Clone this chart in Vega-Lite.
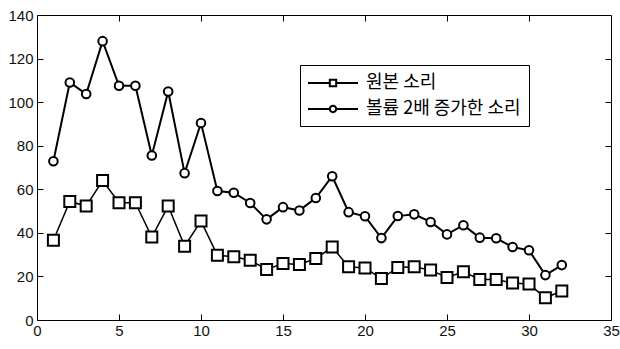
{
  "$schema": "https://vega.github.io/schema/vega-lite/v6.json",
  "autosize": {"type": "none"},
  "width": 574,
  "height": 305,
  "padding": {"left": 37, "top": 15, "right": 9, "bottom": 29},
  "background": "white",
  "config": {
    "view": {"stroke": "black", "strokeWidth": 1},
    "axis": {
      "grid": false,
      "domain": false,
      "ticks": true,
      "tickColor": "black",
      "tickWidth": 1,
      "tickSize": 6,
      "offset": -6,
      "labelFont": "Liberation Sans",
      "labelFontSize": 15,
      "labelColor": "#111",
      "title": null
    }
  },
  "data": {
    "values": [
      {"x": 1, "y": 36.6, "series": "원본 소리"},
      {"x": 2, "y": 54.4, "series": "원본 소리"},
      {"x": 3, "y": 52.3, "series": "원본 소리"},
      {"x": 4, "y": 64, "series": "원본 소리"},
      {"x": 5, "y": 53.8, "series": "원본 소리"},
      {"x": 6, "y": 53.8, "series": "원본 소리"},
      {"x": 7, "y": 38.1, "series": "원본 소리"},
      {"x": 8, "y": 52.3, "series": "원본 소리"},
      {"x": 9, "y": 33.9, "series": "원본 소리"},
      {"x": 10, "y": 45.4, "series": "원본 소리"},
      {"x": 11, "y": 29.7, "series": "원본 소리"},
      {"x": 12, "y": 29, "series": "원본 소리"},
      {"x": 13, "y": 27.4, "series": "원본 소리"},
      {"x": 14, "y": 23.2, "series": "원본 소리"},
      {"x": 15, "y": 25.9, "series": "원본 소리"},
      {"x": 16, "y": 25.5, "series": "원본 소리"},
      {"x": 17, "y": 28.2, "series": "원본 소리"},
      {"x": 18, "y": 33.5, "series": "원본 소리"},
      {"x": 19, "y": 24.4, "series": "원본 소리"},
      {"x": 20, "y": 23.9, "series": "원본 소리"},
      {"x": 21, "y": 19, "series": "원본 소리"},
      {"x": 22, "y": 24.1, "series": "원본 소리"},
      {"x": 23, "y": 24.4, "series": "원본 소리"},
      {"x": 24, "y": 22.9, "series": "원본 소리"},
      {"x": 25, "y": 19.5, "series": "원본 소리"},
      {"x": 26, "y": 22.1, "series": "원본 소리"},
      {"x": 27, "y": 18.6, "series": "원본 소리"},
      {"x": 28, "y": 18.6, "series": "원본 소리"},
      {"x": 29, "y": 17, "series": "원본 소리"},
      {"x": 30, "y": 16.5, "series": "원본 소리"},
      {"x": 31, "y": 10.2, "series": "원본 소리"},
      {"x": 32, "y": 13.3, "series": "원본 소리"},
      {"x": 1, "y": 72.9, "series": "볼륨 2배 증가한 소리"},
      {"x": 2, "y": 109, "series": "볼륨 2배 증가한 소리"},
      {"x": 3, "y": 103.7, "series": "볼륨 2배 증가한 소리"},
      {"x": 4, "y": 128, "series": "볼륨 2배 증가한 소리"},
      {"x": 5, "y": 107.5, "series": "볼륨 2배 증가한 소리"},
      {"x": 6, "y": 107.5, "series": "볼륨 2배 증가한 소리"},
      {"x": 7, "y": 75.5, "series": "볼륨 2배 증가한 소리"},
      {"x": 8, "y": 104.9, "series": "볼륨 2배 증가한 소리"},
      {"x": 9, "y": 67.4, "series": "볼륨 2배 증가한 소리"},
      {"x": 10, "y": 90.4, "series": "볼륨 2배 증가한 소리"},
      {"x": 11, "y": 59.2, "series": "볼륨 2배 증가한 소리"},
      {"x": 12, "y": 58.4, "series": "볼륨 2배 증가한 소리"},
      {"x": 13, "y": 53.7, "series": "볼륨 2배 증가한 소리"},
      {"x": 14, "y": 46.2, "series": "볼륨 2배 증가한 소리"},
      {"x": 15, "y": 51.8, "series": "볼륨 2배 증가한 소리"},
      {"x": 16, "y": 50.3, "series": "볼륨 2배 증가한 소리"},
      {"x": 17, "y": 56, "series": "볼륨 2배 증가한 소리"},
      {"x": 18, "y": 66, "series": "볼륨 2배 증가한 소리"},
      {"x": 19, "y": 49.5, "series": "볼륨 2배 증가한 소리"},
      {"x": 20, "y": 47.6, "series": "볼륨 2배 증가한 소리"},
      {"x": 21, "y": 37.6, "series": "볼륨 2배 증가한 소리"},
      {"x": 22, "y": 47.7, "series": "볼륨 2배 증가한 소리"},
      {"x": 23, "y": 48.5, "series": "볼륨 2배 증가한 소리"},
      {"x": 24, "y": 45, "series": "볼륨 2배 증가한 소리"},
      {"x": 25, "y": 39.3, "series": "볼륨 2배 증가한 소리"},
      {"x": 26, "y": 43.5, "series": "볼륨 2배 증가한 소리"},
      {"x": 27, "y": 37.8, "series": "볼륨 2배 증가한 소리"},
      {"x": 28, "y": 37.5, "series": "볼륨 2배 증가한 소리"},
      {"x": 29, "y": 33.5, "series": "볼륨 2배 증가한 소리"},
      {"x": 30, "y": 32, "series": "볼륨 2배 증가한 소리"},
      {"x": 31, "y": 20.6, "series": "볼륨 2배 증가한 소리"},
      {"x": 32, "y": 25.2, "series": "볼륨 2배 증가한 소리"}
    ]
  },
  "layer": [
    {
      "transform": [{"filter": "datum.series === '원본 소리'"}],
      "mark": {"type": "line", "color": "black", "strokeWidth": 1.5},
      "encoding": {
        "x": {"field": "x", "type": "quantitative", "scale": {"domain": [0, 35], "nice": false},
              "axis": {"values": [0, 5, 10, 15, 20, 25, 30, 35], "labelPadding": 3, "labelFlush": false}},
        "y": {"field": "y", "type": "quantitative", "scale": {"domain": [0, 140], "nice": false},
              "axis": {"values": [0, 20, 40, 60, 80, 100, 120, 140], "labelPadding": 4}}
      }
    },
    {
      "transform": [{"filter": "datum.series !== '원본 소리'"}],
      "mark": {"type": "line", "color": "black", "strokeWidth": 2},
      "encoding": {
        "x": {"field": "x", "type": "quantitative", "axis": null},
        "y": {"field": "y", "type": "quantitative", "axis": null}
      }
    },
    {
      "mark": {"type": "point", "filled": false, "fill": "white", "fillOpacity": 1, "stroke": "black", "strokeWidth": 2, "opacity": 1, "size": 121},
      "encoding": {
        "x": {"field": "x", "type": "quantitative", "scale": {"domain": [0, 35], "nice": false},
              "axis": {"orient": "top", "labels": false, "values": [5, 10, 15, 20, 25, 30]}},
        "y": {"field": "y", "type": "quantitative", "scale": {"domain": [0, 140], "nice": false},
              "axis": {"orient": "right", "labels": false, "values": [20, 40, 60, 80, 100, 120]}},
        "shape": {"field": "series", "type": "nominal",
                  "scale": {"domain": ["원본 소리", "볼륨 2배 증가한 소리"],
                            "range": ["square", "M-0.78,0A0.78,0.78 0 1,1 0.78,0A0.78,0.78 0 1,1 -0.78,0Z"]},
                  "legend": null}
      }
    },
    {
      "transform": [{"filter": "datum.x > 1000"}],
      "mark": {"type": "point", "filled": true, "fill": "black", "color": "black", "fillOpacity": 1, "stroke": "black", "strokeWidth": 0, "opacity": 1},
      "encoding": {
        "x": {"field": "x", "type": "quantitative", "axis": null},
        "y": {"field": "y", "type": "quantitative", "axis": null},
        "shape": {"field": "series", "type": "nominal",
                  "scale": {"domain": ["원본 소리", "볼륨 2배 증가한 소리"],
                            "range": [
                              "M-1,-0.1L1.08,-0.1L1.08,0.1L-1,0.1ZM1.92,-0.1L4,-0.1L4,0.1L1.92,0.1ZM1.08,-0.42L1.92,-0.42L1.92,0.42L1.08,0.42ZM1.28,-0.22L1.28,0.22L1.72,0.22L1.72,-0.22Z",
                              "M-1,-0.1L1.09,-0.1L1.09,0.1L-1,0.1ZM1.91,-0.1L4,-0.1L4,0.1L1.91,0.1ZM1.08,0A0.42,0.42 0 1,1 1.92,0A0.42,0.42 0 1,1 1.08,0ZM1.28,0A0.22,0.22 0 1,0 1.72,0A0.22,0.22 0 1,0 1.28,0Z"
                            ]},
                  "legend": {
                    "title": null,
                    "orient": "none",
                    "legendX": 263,
                    "legendY": 50,
                    "direction": "vertical",
                    "strokeColor": "black",
                    "fillColor": "white",
                    "padding": 8,
                    "rowPadding": 7,
                    "symbolSize": 400,
                    "symbolStrokeWidth": 0,
                    "symbolStrokeColor": "black",
                    "symbolFillColor": "black",
                    "symbolOpacity": 1,
                    "labelFont": "Noto Sans CJK KR",
                    "labelFontSize": 18,
                    "labelColor": "black",
                    "labelOffset": 38,
                    "labelLimit": 300
                  }}
      }
    }
  ],
  "resolve": {"axis": {"x": "independent", "y": "independent"}, "scale": {"shape": "independent"}}
}
